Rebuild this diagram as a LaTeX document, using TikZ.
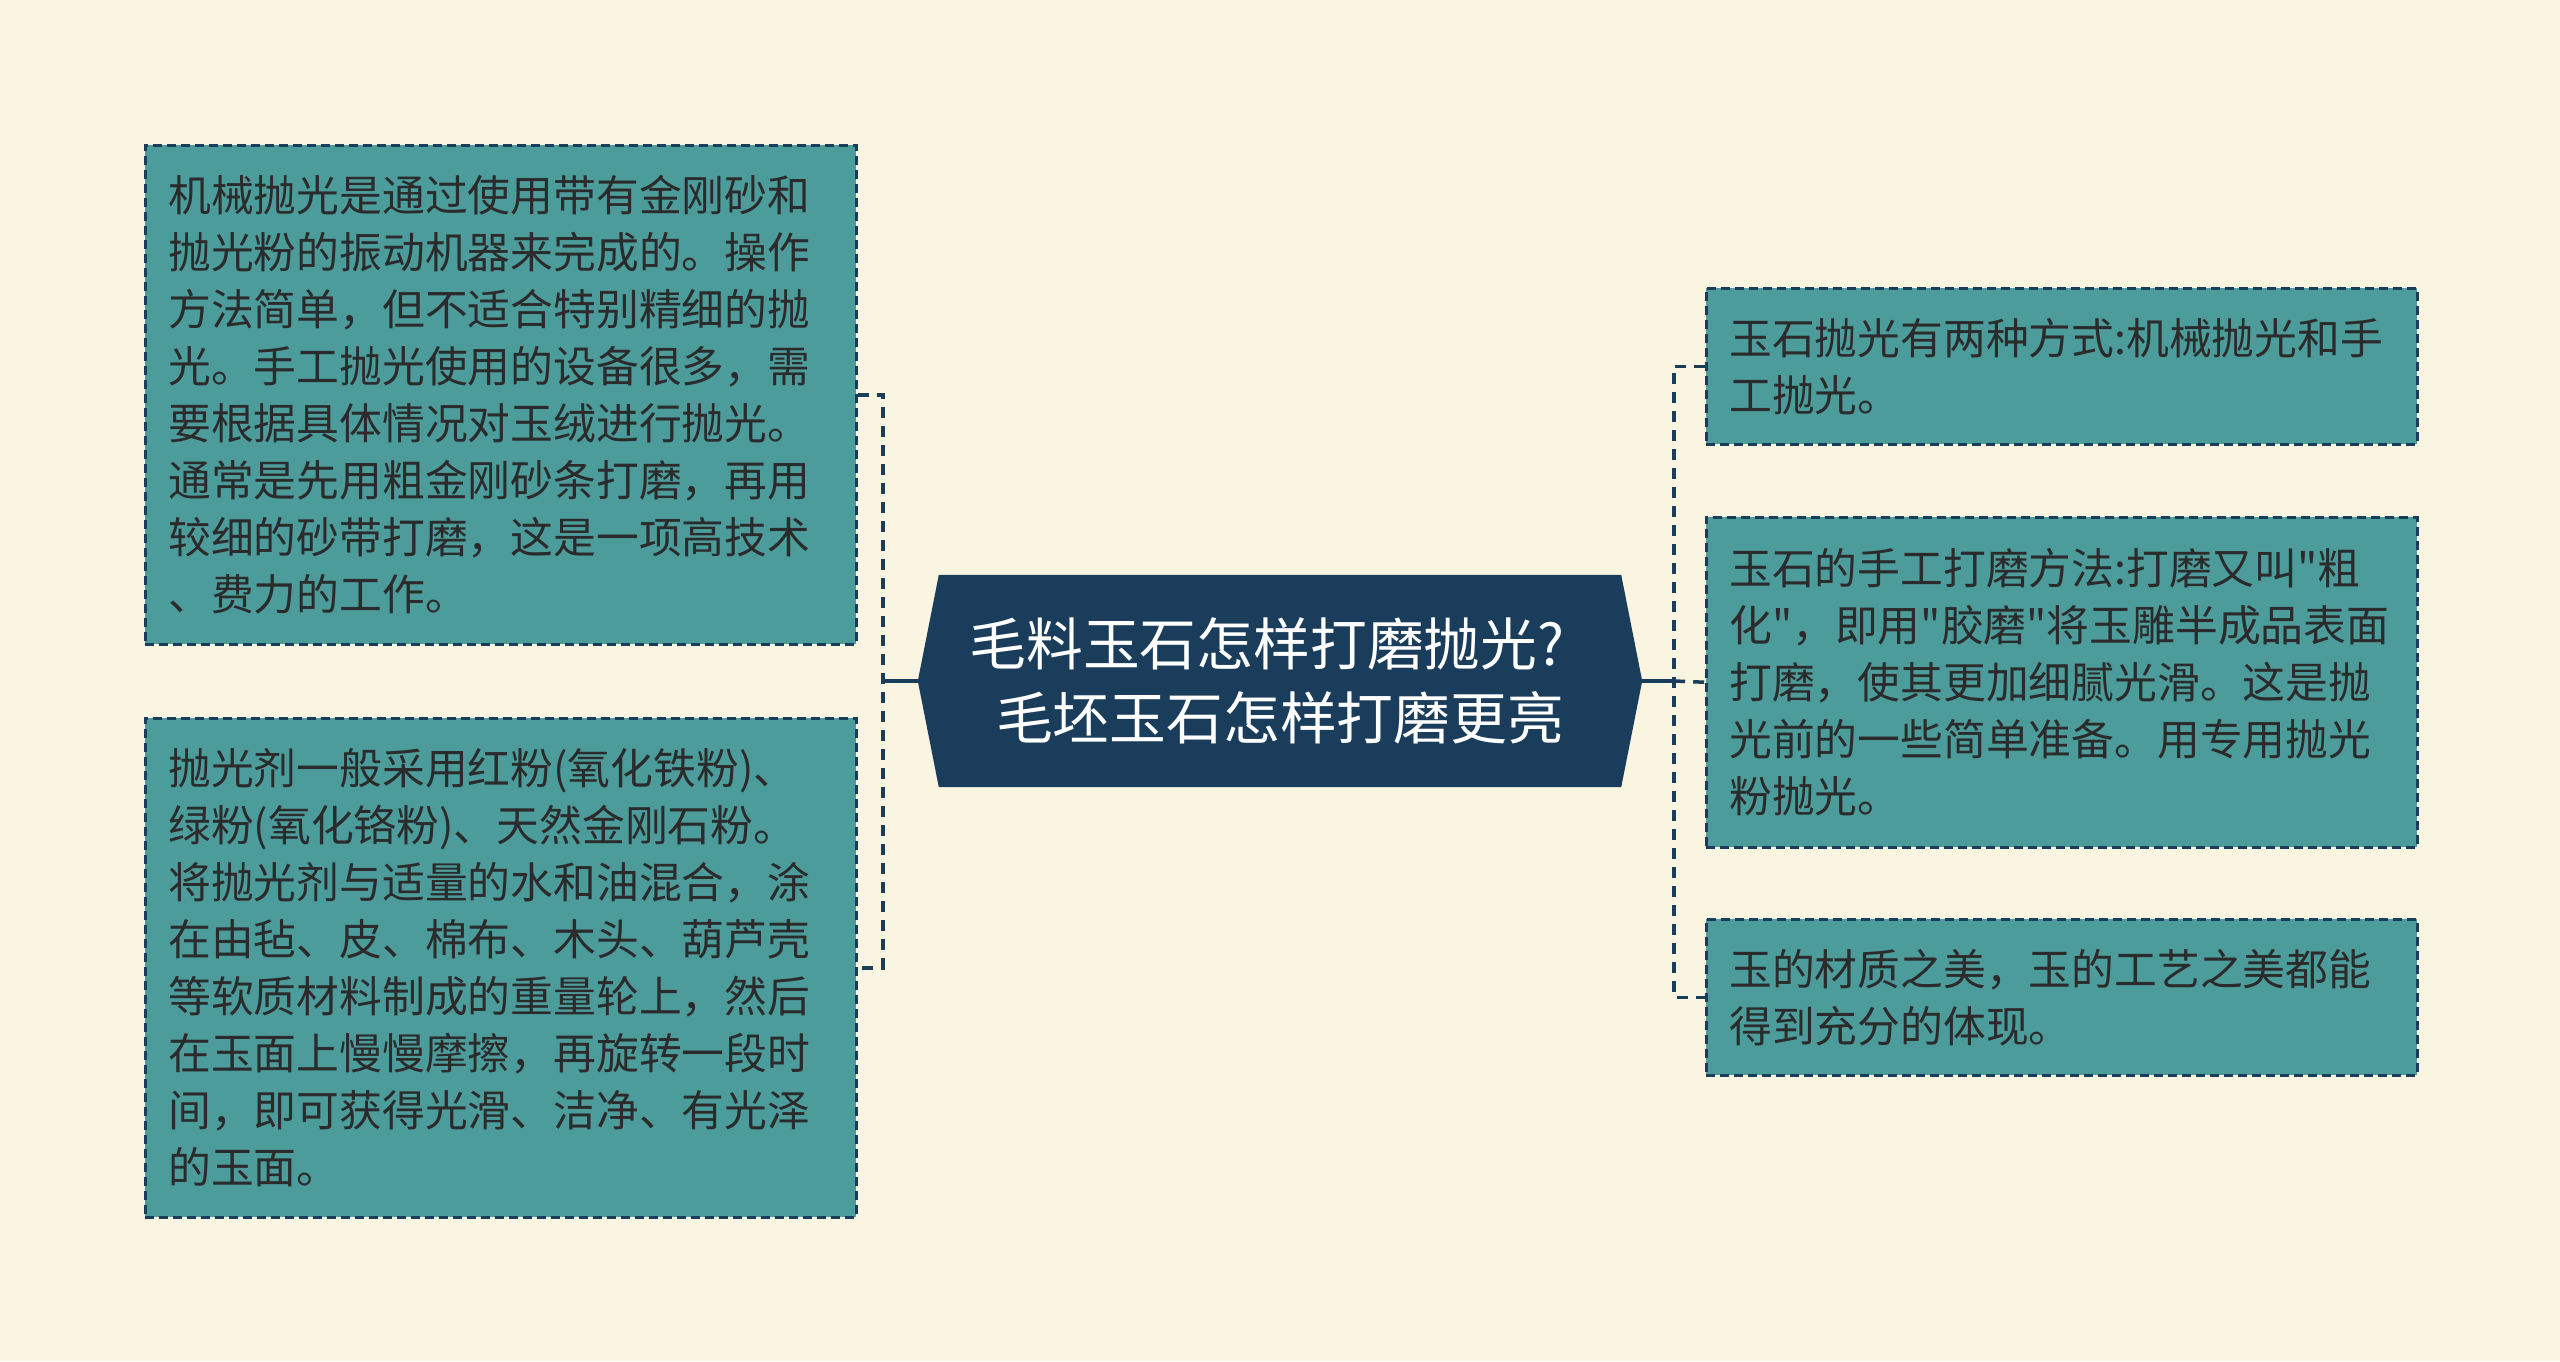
\documentclass[tikz,border=0pt]{standalone}
\usepackage{fontspec}
\newfontfamily\cjk{Noto Sans CJK SC}
\definecolor{bgc}{HTML}{FAF5E1}
\definecolor{boxteal}{HTML}{4D9C9C}
\definecolor{navyc}{HTML}{1B3D5C}
\definecolor{txtc}{HTML}{2B2B2B}
\begin{document}
\begin{tikzpicture}[x=1pt,y=-1pt,
  leaf/.style={draw=navyc, fill=boxteal, line width=2.5pt, dash pattern=on 9pt off 5pt,
    text=txtc, font=\cjk\fontsize{42.8pt}{57pt}\selectfont, align=left, anchor=north west,
    inner xsep=23pt, inner ysep=0pt, text width=665pt},
  conn/.style={draw=navyc, line width=3.5pt, dash pattern=on 11pt off 8pt},
  trunk/.style={draw=navyc, line width=3.5pt},
  rootnode/.style={text=white, font=\cjk\fontsize{56.8pt}{73.5pt}\selectfont, align=center,
    minimum width=682pt, minimum height=212pt, inner sep=0pt}]
\fill[bgc] (0,0) rectangle (2560,1361);
\useasboundingbox (0,0) rectangle (2560,1361);

% root
\node[rootnode] (root) at (1280,681) {};
\coordinate (rootL) at ([xshift=-21pt]root.west);
\coordinate (rootR) at ([xshift=21pt]root.east);
\fill[navyc] (rootL) -- (root.north west) -- (root.north east) -- (rootR) -- (root.south east) -- (root.south west) -- cycle;
\node[rootnode] at (root.center) {毛料玉石怎样打磨抛光?\makebox[26pt]{}\\毛坯玉石怎样打磨更亮};

% left leaves
\node[leaf, minimum height=499pt] (L1) at (144,144) {机械抛光是通过使用带有金刚砂和\\抛光粉的振动机器来完成的。操作\\方法简单，但不适合特别精细的抛\\光。手工抛光使用的设备很多，需\\要根据具体情况对玉绒进行抛光。\\通常是先用粗金刚砂条打磨，再用\\较细的砂带打磨，这是一项高技术\\、费力的工作。};
\node[leaf, minimum height=499pt] (L2) at (144,717) {抛光剂一般采用红粉(氧化铁粉)、\\绿粉(氧化铬粉)、天然金刚石粉。\\将抛光剂与适量的水和油混合，涂\\在由毡、皮、棉布、木头、葫芦壳\\等软质材料制成的重量轮上，然后\\在玉面上慢慢摩擦，再旋转一段时\\间，即可获得光滑、洁净、有光泽\\的玉面。};

% right leaves
\node[leaf, minimum height=156pt] (R1) at (1705,287) {玉石抛光有两种方式:机械抛光和手\\工抛光。};
\node[leaf, minimum height=330pt] (R2) at (1705,516) {玉石的手工打磨方法:打磨又叫"粗\\化"，即用"胶磨"将玉雕半成品表面\\打磨，使其更加细腻光滑。这是抛\\光前的一些简单准备。用专用抛光\\粉抛光。};
\node[leaf, minimum height=156pt] (R3) at (1705,918) {玉的材质之美，玉的工艺之美都能\\得到充分的体现。};

% connectors
\coordinate (lj) at ([xshift=-35pt]rootL);
\coordinate (rj) at ([xshift=32pt]rootR);
\draw[trunk] (rootL) -- (lj);
\draw[trunk] (rootR) -- (rj);
\draw[conn] (L1.east) -| (lj) |- (L2.east);
\draw[conn] (R1.west) -| (rj) |- (R3.west);
\draw[conn] (rj) -- (R2.west);
\end{tikzpicture}
\end{document}
